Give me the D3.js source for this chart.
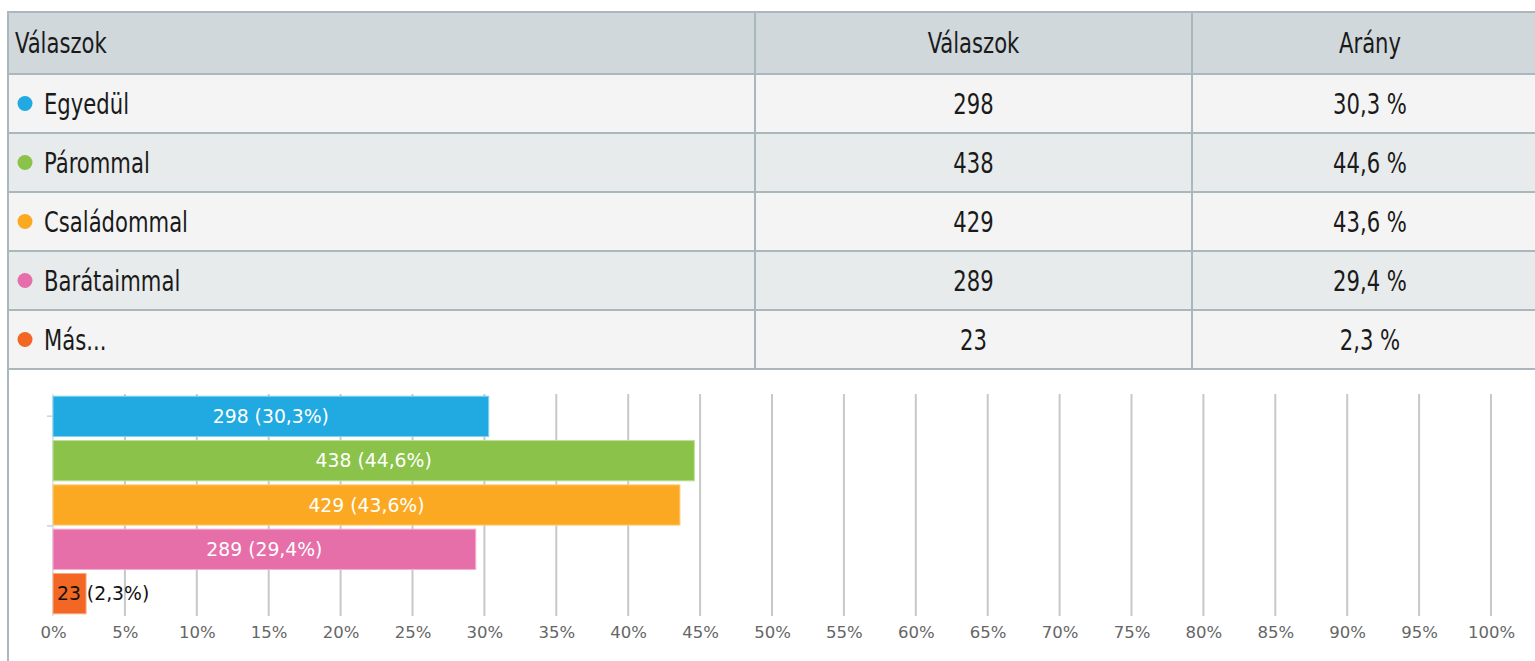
<!DOCTYPE html>
<html lang="hu">
<head>
<meta charset="utf-8">
<title>Válaszok</title>
<script src="https://cdn.jsdelivr.net/npm/d3@7"></script>
<style>
  html, body { margin: 0; padding: 0; background: #fff; }
  svg { display: block; }
</style>
</head>
<body>
<script>
// Answer categories, counts and shares (percent of respondents)
const categories = ["Egyedül", "Párommal", "Családommal", "Barátaimmal", "Más..."];
const counts = [298, 438, 429, 289, 23];
const shares = [30.3, 44.6, 43.6, 29.4, 2.3];
const palette = ["#21a9e1", "#8bc34a", "#fba922", "#e66fa9", "#f26724"];
const headers = ["Válaszok", "Válaszok", "Arány"];
const axisTicks = d3.range(0, 101, 5);

const W = 1535, H = 661;
const svg = d3.select("body").append("svg").attr("width", W).attr("height", H);

const fmt = v => v.toFixed(1).replace(".", ",");

// ---------- table ----------
const tableFont = "'DejaVu Sans Condensed', 'DejaVu Sans', sans-serif";
const narrow = 0.84;          // horizontal squeeze for the table lettering
const border = "#aab8be";
const colEdges = [8, 755, 1192, 1548];
const headTop = 12, headH = 62, rowH = 59;
const rowY = d3.range(categories.length).map(i => headTop + headH + i * rowH);
const tableBottom = headTop + headH + categories.length * rowH;

const table = svg.append("g").attr("class", "table");

table.append("rect")
  .attr("x", colEdges[0]).attr("y", headTop)
  .attr("width", colEdges[3] - colEdges[0]).attr("height", headH)
  .attr("fill", "#d0d8dc");

table.selectAll("rect.row").data(categories).join("rect")
  .attr("class", "row")
  .attr("x", colEdges[0]).attr("y", (d, i) => rowY[i])
  .attr("width", colEdges[3] - colEdges[0]).attr("height", rowH)
  .attr("fill", (d, i) => i % 2 === 0 ? "#f4f4f4" : "#e8ebec");

// horizontal rules
const hLines = [headTop, headTop + headH, ...rowY.slice(1), tableBottom];
table.selectAll("line.h").data(hLines).join("line")
  .attr("class", "h")
  .attr("x1", colEdges[0]).attr("x2", colEdges[3])
  .attr("y1", d => d).attr("y2", d => d)
  .attr("stroke", border).attr("stroke-width", 2);

// vertical rules
table.selectAll("line.v").data(colEdges.slice(1, 3)).join("line")
  .attr("class", "v")
  .attr("x1", d => d).attr("x2", d => d)
  .attr("y1", headTop).attr("y2", tableBottom)
  .attr("stroke", border).attr("stroke-width", 2);

// outer left border runs down past the chart
table.append("line")
  .attr("x1", colEdges[0]).attr("x2", colEdges[0])
  .attr("y1", headTop - 1).attr("y2", H)
  .attr("stroke", border).attr("stroke-width", 2);

const capOffset = 10;
const colCenter = i => (colEdges[i] + colEdges[i + 1]) / 2;

// draws one table text, squeezed horizontally around its anchor point
function cellText(sel, tx, ty, anchor, str) {
  sel.append("text")
    .attr("transform", `translate(${tx},${ty}) scale(${narrow},1)`)
    .attr("text-anchor", anchor)
    .attr("font-family", tableFont).attr("font-size", 28)
    .attr("fill", "#1a1a1a")
    .text(str);
}

// header text
headers.forEach((h, i) => {
  cellText(table, i === 0 ? 15 : colCenter(i), headTop + headH / 2 + capOffset,
    i === 0 ? "start" : "middle", h);
});

const rows = table.selectAll("g.r").data(categories).join("g")
  .attr("class", "r")
  .attr("transform", (d, i) => `translate(0,${rowY[i] + rowH / 2})`);

rows.append("circle")
  .attr("cx", 25).attr("cy", 0).attr("r", 7.5)
  .attr("fill", (d, i) => palette[i]);

rows.each(function (d, i) {
  const g = d3.select(this);
  cellText(g, 44, capOffset, "start", d);
  cellText(g, colCenter(1), capOffset, "middle", counts[i]);
  cellText(g, colCenter(2), capOffset, "middle", fmt(shares[i]) + " %");
});

// ---------- bar chart ----------
const plot = { left: 53, right: 1491, top: 394, bottom: 616 };
const x = d3.scaleLinear().domain([0, 100]).range([plot.left, plot.right]);
const y = d3.scaleBand().domain(categories).range([plot.top, plot.bottom])
  .paddingInner(0.09).paddingOuter(0.05);

const chart = svg.append("g").attr("class", "chart");

// vertical grid lines
chart.selectAll("line.grid").data(axisTicks.slice(1)).join("line")
  .attr("class", "grid")
  .attr("x1", d => x(d)).attr("x2", d => x(d))
  .attr("y1", plot.top).attr("y2", plot.bottom)
  .attr("stroke", "#c8c8c8").attr("stroke-width", 2);

// category axis line
chart.append("line")
  .attr("x1", x(0)).attr("x2", x(0))
  .attr("y1", plot.top).attr("y2", plot.bottom)
  .attr("stroke", "#d4dfea").attr("stroke-width", 1.5);

// small category ticks
const step = y.step();
chart.selectAll("line.ytick").data([plot.top + step / 2, plot.top + step * 3 - 1]).join("line")
  .attr("class", "ytick")
  .attr("x1", x(0) - 6).attr("x2", x(0))
  .attr("y1", d => d).attr("y2", d => d)
  .attr("stroke", "#c4d2e0").attr("stroke-width", 1.5);

// bars, with a soft light rim
chart.selectAll("rect.bar").data(categories).join("rect")
  .attr("class", "bar")
  .attr("x", x(0))
  .attr("y", d => y(d))
  .attr("width", (d, i) => x(shares[i]) - x(0))
  .attr("height", y.bandwidth())
  .attr("fill", (d, i) => palette[i])
  .attr("stroke", (d, i) => d3.interpolateRgb(palette[i], "#fff")(0.45))
  .attr("stroke-width", 1);

// value labels
const labels = chart.selectAll("text.lbl").data(categories).join("text")
  .attr("class", "lbl")
  .attr("font-family", "'DejaVu Sans', sans-serif")
  .attr("font-size", 18.8)
  .attr("y", d => y(d) + y.bandwidth() / 2 + 6.8)
  .text((d, i) => `${counts[i]} (${fmt(shares[i])}%)`);

labels.each(function (d, i) {
  const t = d3.select(this);
  const barW = x(shares[i]) - x(0);
  const tw = this.getComputedTextLength();
  if (tw + 8 < barW) {
    t.attr("x", x(0) + barW / 2).attr("text-anchor", "middle").attr("fill", "#fff");
  } else {
    t.attr("x", x(0) + 4).attr("text-anchor", "start").attr("fill", "#111");
  }
});

// percent axis
const xAxis = d3.axisBottom(x).tickValues(axisTicks).tickSize(0).tickPadding(0)
  .tickFormat(d => d + "%");
const ax = chart.append("g").attr("transform", `translate(0,${plot.bottom})`).call(xAxis);
ax.select(".domain").remove();
ax.selectAll("text")
  .attr("font-family", "'DejaVu Sans', sans-serif")
  .attr("font-size", 16.5)
  .attr("fill", "#666")
  .attr("dy", null)
  .attr("y", 22);
</script>
</body>
</html>
